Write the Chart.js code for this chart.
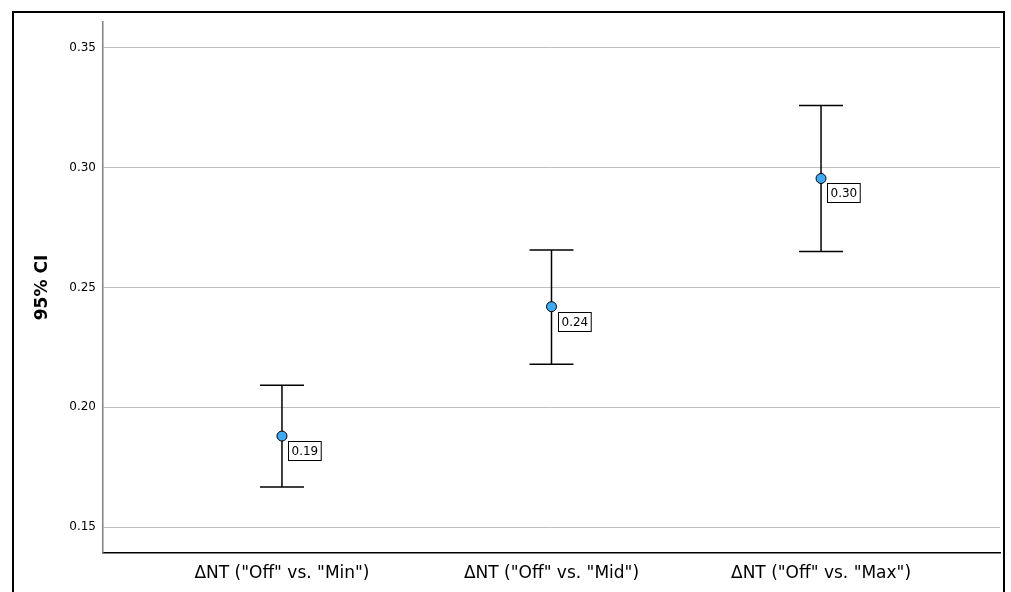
<!DOCTYPE html>
<html>
<head>
<meta charset="utf-8">
<script src="https://cdn.jsdelivr.net/npm/chart.js@4.4.1/dist/chart.umd.min.js"></script>
<style>
  body { margin: 0; background: #fff; }
  #frame { position: absolute; left: 12px; top: 11px; width: 989px; height: 600px; border: 2px solid #000; }
  #chart { position: absolute; left: 0; top: 0; }
</style>
</head>
<body>
<div id="frame"></div>
<canvas id="chart" width="1011" height="592"></canvas>
<script>
const categories = ['ΔNT ("Off" vs. "Min")', 'ΔNT ("Off" vs. "Mid")', 'ΔNT ("Off" vs. "Max")'];
const means = [0.188, 0.242, 0.2955];
const lowerCI = [0.1667, 0.2180, 0.2650];
const upperCI = [0.2092, 0.2657, 0.3260];
const pointLabels = ["0.19", "0.24", "0.30"];
const yTicks = [0.15, 0.20, 0.25, 0.30, 0.35];

const FONT = "'DejaVu Sans', sans-serif";

// whiskers with caps, drawn behind the points
const errorBars = {
  id: "errorBars",
  beforeDatasetsDraw(chart) {
    const ctx = chart.ctx;
    const x = chart.scales.x, y = chart.scales.y;
    ctx.save();
    ctx.strokeStyle = "#000";
    ctx.lineWidth = 1.5;
    means.forEach((m, i) => {
      const px = x.getPixelForValue(i + 1);
      const top = y.getPixelForValue(upperCI[i]);
      const bot = y.getPixelForValue(lowerCI[i]);
      ctx.beginPath();
      ctx.moveTo(px, top); ctx.lineTo(px, bot);
      ctx.moveTo(px - 22, top); ctx.lineTo(px + 22, top);
      ctx.moveTo(px - 22, bot); ctx.lineTo(px + 22, bot);
      ctx.stroke();
    });
    ctx.restore();
  }
};

// boxed value labels next to the points
const boxLabels = {
  id: "boxLabels",
  afterDatasetsDraw(chart) {
    const ctx = chart.ctx;
    const meta = chart.getDatasetMeta(0);
    ctx.save();
    ctx.font = "12px " + FONT;
    ctx.textBaseline = "middle";
    meta.data.forEach((pt, i) => {
      const txt = pointLabels[i];
      const w = ctx.measureText(txt).width + 6;
      const h = 19;
      const bx = Math.round(pt.x + 6) + 0.5, by = Math.round(pt.y + 5) + 0.5;
      ctx.fillStyle = "#fff";
      ctx.fillRect(bx, by, w, h);
      ctx.strokeStyle = "#000";
      ctx.lineWidth = 1;
      ctx.strokeRect(bx, by, w, h);
      ctx.fillStyle = "#000";
      ctx.fillText(txt, bx + 3, by + h / 2 + 0.5);
    });
    ctx.restore();
  }
};

new Chart(document.getElementById("chart"), {
  type: "scatter",
  data: {
    datasets: [{
      data: means.map((v, i) => ({ x: i + 1, y: v })),
      backgroundColor: "#3FA9F5",
      borderColor: "#000",
      borderWidth: 1,
      pointRadius: 5,
      pointHoverRadius: 5
    }]
  },
  plugins: [errorBars, boxLabels],
  options: {
    responsive: false,
    animation: false,
    layout: { padding: { left: 0, top: 22, right: 11, bottom: 0 } },
    plugins: { legend: { display: false }, tooltip: { enabled: false } },
    scales: {
      x: {
        type: "linear",
        min: 0.336,
        max: 3.664,
        afterBuildTicks: s => { s.ticks = categories.map((c, i) => ({ value: i + 1 })); },
        afterFit: s => { s.height = 39; },
        grid: { display: false, drawTicks: false },
        border: { color: "#000", width: 1.5 },
        ticks: {
          padding: 10,
          color: "#000",
          font: { family: FONT, size: 17 },
          callback: v => categories[v - 1]
        }
      },
      y: {
        min: 0.1392,
        max: 0.3608,
        afterBuildTicks: s => { s.ticks = yTicks.map(v => ({ value: v })); },
        afterFit: s => { s.width = 103; },
        grid: { color: "#bdbdbd", lineWidth: 1, drawTicks: false },
        border: { color: "#808080", width: 1.5 },
        ticks: {
          padding: 7,
          color: "#000",
          font: { family: FONT, size: 12 },
          callback: v => v.toFixed(2)
        },
        title: {
          display: true,
          text: "95% CI",
          color: "#000",
          font: { family: FONT, size: 17, weight: "bold" },
          padding: { top: 32, bottom: 0 }
        }
      }
    }
  }
});
</script>
</body>
</html>
